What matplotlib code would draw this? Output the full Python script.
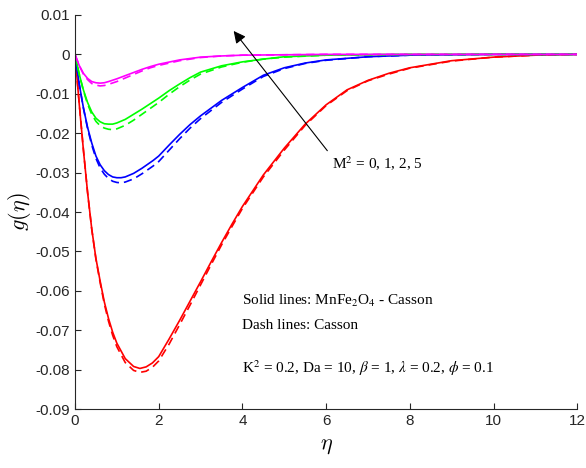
import matplotlib
matplotlib.use("Agg")
import matplotlib.pyplot as plt

# eta grids and g(eta) values
eta_red = [0, 0.1, 0.2, 0.3, 0.4, 0.5, 0.6, 0.7, 0.8, 0.9, 1.0, 1.2, 1.4, 1.55, 1.7,
           1.85, 2.0, 2.25, 2.5, 2.75, 3.0, 3.25, 3.5, 3.75, 4.0, 4.5, 5.0, 5.5, 6.0,
           6.5, 7.0, 7.5, 8.0, 9.0, 10.0, 11.0, 12.0]
red_solid = [0, -0.0125, -0.0242, -0.0350, -0.0443, -0.0518, -0.0575, -0.0628, -0.0670,
             -0.0705, -0.0733, -0.0772, -0.0792, -0.0797, -0.0793, -0.0783, -0.0767,
             -0.0722, -0.0675, -0.0626, -0.0577, -0.0527, -0.0478, -0.0431, -0.0386,
             -0.0306, -0.0238, -0.0177, -0.0128, -0.0090, -0.0066, -0.0048, -0.0034,
             -0.0016, -0.0007, -0.0002, 0.0]
red_dash = [0, -0.0124, -0.0241, -0.0350, -0.0444, -0.0520, -0.0579, -0.0633, -0.0677,
            -0.0713, -0.0742, -0.0782, -0.0802, -0.0807, -0.0804, -0.0794, -0.0778,
            -0.0735, -0.0686, -0.0636, -0.0585, -0.0534, -0.0484, -0.0437, -0.0391,
            -0.0311, -0.0243, -0.0180, -0.0130, -0.0092, -0.0067, -0.0050, -0.0035,
            -0.0017, -0.0007, -0.0002, 0.0]

eta_blue = [0, 0.1, 0.2, 0.3, 0.4, 0.5, 0.6, 0.7, 0.8, 0.9, 1.0, 1.1, 1.2, 1.4, 1.6,
            1.87, 2.0, 2.25, 2.5, 2.75, 3.0, 3.5, 4.0, 4.5, 5.0, 5.5, 6.0, 7.0, 8.0,
            9.0, 10.0, 12.0]
blue_solid = [0, -0.0075, -0.0135, -0.0185, -0.0225, -0.0258, -0.0280, -0.0295, -0.0305,
              -0.0311, -0.0313, -0.0313, -0.0311, -0.0302, -0.0289, -0.0269, -0.0258,
              -0.0230, -0.0203, -0.0178, -0.0156, -0.0117, -0.0084, -0.0053, -0.0034,
              -0.0022, -0.0014, -0.0006, -0.0002, -0.0001, 0.0, 0.0]
blue_dash = [0, -0.0075, -0.0136, -0.0188, -0.0230, -0.0264, -0.0288, -0.0304, -0.0315,
             -0.0322, -0.0325, -0.0326, -0.0324, -0.0316, -0.0303, -0.0283, -0.0272,
             -0.0243, -0.0214, -0.0187, -0.0163, -0.0122, -0.0088, -0.0056, -0.0036,
             -0.0023, -0.0015, -0.0006, -0.0002, -0.0001, 0.0, 0.0]

eta_green = [0, 0.1, 0.2, 0.3, 0.4, 0.5, 0.6, 0.7, 0.8, 0.9, 1.0, 1.2, 1.4, 1.6, 1.8,
             2.0, 2.25, 2.5, 2.75, 3.0, 3.5, 4.0, 4.5, 5.0, 6.0, 7.0, 8.0, 12.0]
green_solid = [0, -0.0050, -0.0090, -0.0122, -0.0146, -0.0162, -0.0171, -0.0176, -0.0177,
               -0.0177, -0.0174, -0.0165, -0.0152, -0.0139, -0.0125, -0.0111, -0.0092,
               -0.0075, -0.0059, -0.0045, -0.0029, -0.0019, -0.0012, -0.0006, -0.0002,
               -0.0001, 0.0, 0.0]
green_dash = [0, -0.0050, -0.0092, -0.0126, -0.0152, -0.0170, -0.0181, -0.0187, -0.0190,
              -0.0191, -0.0189, -0.0180, -0.0167, -0.0152, -0.0137, -0.0122, -0.0101,
              -0.0082, -0.0065, -0.0050, -0.0032, -0.0020, -0.0012, -0.0007, -0.0002,
              -0.0001, 0.0, 0.0]

eta_mag = [0, 0.1, 0.2, 0.3, 0.4, 0.5, 0.6, 0.7, 0.8, 1.0, 1.2, 1.4, 1.6, 1.8, 2.0,
           2.5, 3.0, 3.5, 4.0, 5.0, 6.0, 12.0]
mag_solid = [0, -0.0028, -0.0048, -0.0061, -0.0069, -0.0072, -0.0073, -0.0072, -0.0069,
             -0.0062, -0.0054, -0.0046, -0.0038, -0.0031, -0.0025, -0.0014, -0.0007,
             -0.0004, -0.0002, -0.0001, 0.0, 0.0]
mag_dash = [0, -0.0028, -0.0050, -0.0064, -0.0074, -0.0078, -0.0080, -0.0079, -0.0076,
            -0.0069, -0.0060, -0.0051, -0.0042, -0.0034, -0.0028, -0.0016, -0.0008,
            -0.0004, -0.0002, -0.0001, 0.0, 0.0]

series = [
    (eta_red, red_solid, red_dash, "#ff0000"),
    (eta_blue, blue_solid, blue_dash, "#0000ff"),
    (eta_green, green_solid, green_dash, "#00ff00"),
    (eta_mag, mag_solid, mag_dash, "#ff00ff"),
]

fig = plt.figure(figsize=(5.86, 4.68), dpi=100)
ax = fig.add_axes([0.128, 0.126, 0.857, 0.842])

for eta, solid, dash, col in series:
    ax.plot(eta, solid, color=col, lw=1.2)
    ax.plot(eta, dash, color=col, lw=1.2, ls=(0, (5, 3)))

ax.set_xlim(0, 12)
ax.set_ylim(-0.09, 0.01)
ax.set_xticks([0, 2, 4, 6, 8, 10, 12])
ax.set_yticks([-0.09, -0.08, -0.07, -0.06, -0.05, -0.04, -0.03, -0.02, -0.01, 0, 0.01])
ax.set_yticklabels(["-0.09", "-0.08", "-0.07", "-0.06", "-0.05", "-0.04", "-0.03",
                    "-0.02", "-0.01", "0", "0.01"])
ax.set_xticklabels(["0", "2", "4", "6", "8", "10", "12"])

for s in ["top", "right"]:
    ax.spines[s].set_visible(False)
for s in ["left", "bottom"]:
    ax.spines[s].set_color("#262626")
    ax.spines[s].set_linewidth(0.8)
ax.tick_params(direction="in", length=4, width=0.8, colors="#262626",
               labelsize=11, labelfontfamily="Liberation Sans")

ax.set_xlabel(r"$\eta$", fontsize=16, labelpad=6, math_fontfamily="cm")
ax.set_ylabel(r"$g(\eta)$", fontsize=16, labelpad=2, math_fontfamily="cm")

serif = "Liberation Serif"
ax.annotate("", xy=(3.75, 0.0065), xytext=(6.07, -0.025),
            arrowprops=dict(arrowstyle="-|>", color="black", lw=0.8,
                            mutation_scale=18))
ax.text(6.15, -0.0277, r"M$^2$ = 0, 1, 2, 5", fontsize=11, family=serif,
        va="center", ha="left", math_fontfamily="stix")

ax.text(4.0, -0.0625, r"Solid lines: MnFe$_2$O$_4$ - Casson", fontsize=11,
        family=serif, va="center", math_fontfamily="stix")
ax.text(4.0, -0.0688, "Dash lines: Casson", fontsize=11, family=serif, va="center")
ax.text(4.0, -0.0797,
        r"K$^2$ = 0.2, Da = 10, $\beta$ = 1, $\lambda$ = 0.2, $\phi$ = 0.1",
        fontsize=11, family=serif, va="center", math_fontfamily="stix")

fig.savefig("out.png", dpi=100)
